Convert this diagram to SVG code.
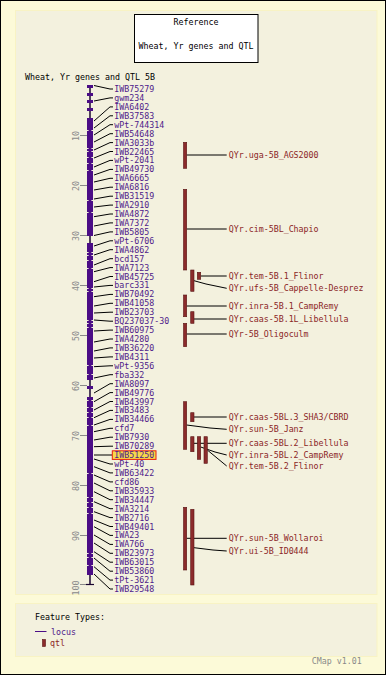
<svg xmlns="http://www.w3.org/2000/svg" width="386" height="675" viewBox="0 0 386 675">
<style>
text{font-family:"DejaVu Sans Mono","Liberation Mono",monospace;font-size:8.3px}
.lab{fill:#4f1a8a}
.qlab{fill:#8b2626}
.blk{fill:#000}
.ruler{fill:#8a8a8a}
.tick{stroke:#8a8a8a;stroke-width:1}
.con{fill:none;stroke:#000;stroke-width:1}
.loc{fill:#4b0d86}
.notch{fill:#f3f1de}
.qtl{fill:#8b2b2b;stroke:#5a1414;stroke-width:0.6}
</style>
<rect x="0.5" y="0.5" width="385" height="674" fill="#fcfad8" stroke="#000" stroke-width="1"/>
<rect x="15.5" y="10.5" width="361.5" height="584" fill="#f3f1de" stroke="#f8f3c4" stroke-width="1"/>
<rect x="15.5" y="603.5" width="361.5" height="53" fill="#f3f1de" stroke="#f8f3c4" stroke-width="1"/>
<g id="title">
<rect x="134.5" y="14.5" width="123.5" height="48" fill="#fff" stroke="#000" stroke-width="1"/>
<text class="blk" x="196" y="25.3" text-anchor="middle">Reference</text>
<text class="blk" x="196" y="49" text-anchor="middle">Wheat, Yr genes and QTL</text>
</g>
<text class="blk" x="25" y="80">Wheat, Yr genes and QTL 5B</text>
<g id="ruler">
<g class="tick">
<line x1="80" y1="135.5" x2="87" y2="135.5"/><line x1="80" y1="185.5" x2="87" y2="185.5"/><line x1="80" y1="235.5" x2="87" y2="235.5"/><line x1="80" y1="285.5" x2="87" y2="285.5"/><line x1="80" y1="335.5" x2="87" y2="335.5"/><line x1="80" y1="385.5" x2="87" y2="385.5"/><line x1="80" y1="435.5" x2="87" y2="435.5"/><line x1="80" y1="485.5" x2="87" y2="485.5"/><line x1="80" y1="535.5" x2="87" y2="535.5"/><line x1="80" y1="584.5" x2="87" y2="584.5"/>
</g>
<g class="ruler" text-anchor="middle">
<text transform="translate(78.5,136) rotate(-90)">10</text>
<text transform="translate(78.5,186) rotate(-90)">20</text>
<text transform="translate(78.5,236) rotate(-90)">30</text>
<text transform="translate(78.5,286) rotate(-90)">40</text>
<text transform="translate(78.5,336) rotate(-90)">50</text>
<text transform="translate(78.5,386) rotate(-90)">60</text>
<text transform="translate(78.5,436) rotate(-90)">70</text>
<text transform="translate(78.5,486) rotate(-90)">80</text>
<text transform="translate(78.5,536) rotate(-90)">90</text>
<text transform="translate(78.5,588) rotate(-90)">100</text>
</g>
</g>
<g id="chromosome">
<line x1="90" y1="85" x2="90" y2="585" stroke="#1a0530" stroke-width="1.5"/>
<line x1="86" y1="584.5" x2="94" y2="584.5" stroke="#1a0530" stroke-width="1.2"/>
<rect class="loc" x="87" y="85" width="6" height="3"/>
<rect class="loc" x="87" y="93" width="6" height="3"/>
<rect class="loc" x="87" y="100" width="6" height="3"/>
<rect class="loc" x="87" y="108" width="6" height="3"/>
<rect class="loc" x="87" y="118" width="6" height="118"/>
<rect class="loc" x="87" y="243" width="6" height="137"/>
<rect class="loc" x="87" y="386" width="6" height="3"/>
<rect class="loc" x="87" y="397" width="6" height="178"/>
<g class="notch">
<rect x="87" y="130" width="1.6" height="1"/><rect x="91.4" y="130" width="1.6" height="1"/>
<rect x="87" y="148" width="1.6" height="1"/><rect x="91.4" y="148" width="1.6" height="1"/>
<rect x="87" y="151" width="1.6" height="1"/><rect x="91.4" y="151" width="1.6" height="1"/>
<rect x="87" y="157" width="1.6" height="1"/><rect x="91.4" y="157" width="1.6" height="1"/>
<rect x="87" y="163" width="1.6" height="1"/><rect x="91.4" y="163" width="1.6" height="1"/>
<rect x="87" y="170" width="1.6" height="1"/><rect x="91.4" y="170" width="1.6" height="1"/>
<rect x="87" y="200" width="1.6" height="1"/><rect x="91.4" y="200" width="1.6" height="1"/>
<rect x="87" y="212" width="1.6" height="1"/><rect x="91.4" y="212" width="1.6" height="1"/>
<rect x="87" y="252" width="1.6" height="1"/><rect x="91.4" y="252" width="1.6" height="1"/>
<rect x="87" y="255" width="1.6" height="1"/><rect x="91.4" y="255" width="1.6" height="1"/>
<rect x="87" y="260" width="1.6" height="1"/><rect x="91.4" y="260" width="1.6" height="1"/>
<rect x="87" y="268" width="1.6" height="1"/><rect x="91.4" y="268" width="1.6" height="1"/>
<rect x="87" y="288" width="1.6" height="1"/><rect x="91.4" y="288" width="1.6" height="1"/>
<rect x="87" y="291" width="1.6" height="1"/><rect x="91.4" y="291" width="1.6" height="1"/>
<rect x="87" y="320" width="1.6" height="1"/><rect x="91.4" y="320" width="1.6" height="1"/>
<rect x="87" y="323" width="1.6" height="1"/><rect x="91.4" y="323" width="1.6" height="1"/>
<rect x="87" y="327" width="1.6" height="1"/><rect x="91.4" y="327" width="1.6" height="1"/>
<rect x="87" y="365" width="1.6" height="1"/><rect x="91.4" y="365" width="1.6" height="1"/>
<rect x="87" y="374" width="1.6" height="1"/><rect x="91.4" y="374" width="1.6" height="1"/>
<rect x="87" y="400" width="1.6" height="1"/><rect x="91.4" y="400" width="1.6" height="1"/>
<rect x="87" y="407" width="1.6" height="1"/><rect x="91.4" y="407" width="1.6" height="1"/>
<rect x="87" y="412" width="1.6" height="1"/><rect x="91.4" y="412" width="1.6" height="1"/>
<rect x="87" y="417" width="1.6" height="1"/><rect x="91.4" y="417" width="1.6" height="1"/>
<rect x="87" y="425" width="1.6" height="1"/><rect x="91.4" y="425" width="1.6" height="1"/>
<rect x="87" y="473" width="1.6" height="1"/><rect x="91.4" y="473" width="1.6" height="1"/>
<rect x="87" y="497" width="1.6" height="1"/><rect x="91.4" y="497" width="1.6" height="1"/>
<rect x="87" y="502" width="1.6" height="1"/><rect x="91.4" y="502" width="1.6" height="1"/>
<rect x="87" y="507" width="1.6" height="1"/><rect x="91.4" y="507" width="1.6" height="1"/>
<rect x="87" y="513" width="1.6" height="1"/><rect x="91.4" y="513" width="1.6" height="1"/>
<rect x="87" y="553" width="1.6" height="1"/><rect x="91.4" y="553" width="1.6" height="1"/>
<rect x="87" y="557" width="1.6" height="1"/><rect x="91.4" y="557" width="1.6" height="1"/>
<rect x="87" y="565" width="1.6" height="1"/><rect x="91.4" y="565" width="1.6" height="1"/>
</g>
</g>
<g id="connectors" class="con">
<polyline points="94,85.5 110,89 113,89"/>
<polyline points="94,101 110,97.9 113,97.9"/>
<polyline points="94,121 110,106.9 113,106.9"/>
<polyline points="94,128 110,115.8 113,115.8"/>
<polyline points="94,135 110,124.7 113,124.7"/>
<polyline points="94,142 110,133.7 113,133.7"/>
<polyline points="94,150 110,142.6 113,142.6"/>
<polyline points="94,158 110,151.5 113,151.5"/>
<polyline points="94,167 110,160.4 113,160.4"/>
<polyline points="94,175 110,169.4 113,169.4"/>
<polyline points="94,182 110,178.3 113,178.3"/>
<polyline points="94,190 110,187.2 113,187.2"/>
<polyline points="94,199 110,196.2 113,196.2"/>
<polyline points="94,207 110,205.1 113,205.1"/>
<polyline points="94,216.7 110,214 113,214"/>
<polyline points="94,226 110,222.9 113,222.9"/>
<polyline points="94,235.5 110,231.9 113,231.9"/>
<polyline points="94,246 110,240.8 113,240.8"/>
<polyline points="94,255 110,249.7 113,249.7"/>
<polyline points="94,265 110,258.7 113,258.7"/>
<polyline points="94,271.7 110,267.6 113,267.6"/>
<polyline points="94,281.7 110,276.5 113,276.5"/>
<polyline points="94,287 110,285.4 113,285.4"/>
<polyline points="94,296.7 110,294.4 113,294.4"/>
<polyline points="94,306 110,303.3 113,303.3"/>
<polyline points="94,313 110,312.2 113,312.2"/>
<polyline points="94,320 110,321.2 113,321.2"/>
<polyline points="94,331 110,330.1 113,330.1"/>
<polyline points="94,342 110,339 113,339"/>
<polyline points="94,351 110,347.9 113,347.9"/>
<polyline points="94,358 110,356.9 113,356.9"/>
<polyline points="94,366.7 110,365.8 113,365.8"/>
<polyline points="94,378 110,374.7 113,374.7"/>
<polyline points="94,393 110,383.7 113,383.7"/>
<polyline points="94,401.7 110,392.6 113,392.6"/>
<polyline points="94,410 110,401.5 113,401.5"/>
<polyline points="94,417.7 110,410.4 113,410.4"/>
<polyline points="94,425 110,419.4 113,419.4"/>
<polyline points="94,431.7 110,428.3 113,428.3"/>
<polyline points="94,440 110,437.2 113,437.2"/>
<polyline points="94,446.7 110,446.2 113,446.2"/>
<polyline points="94,455 112,455"/>
<polyline points="94,459 110,464 113,464"/>
<polyline points="94,466.7 110,472.9 113,472.9"/>
<polyline points="94,475 110,481.9 113,481.9"/>
<polyline points="94,483 110,490.8 113,490.8"/>
<polyline points="94,491.7 110,499.7 113,499.7"/>
<polyline points="94,501.7 110,508.7 113,508.7"/>
<polyline points="94,511.7 110,517.6 113,517.6"/>
<polyline points="94,520 110,526.5 113,526.5"/>
<polyline points="94,526.7 110,535.4 113,535.4"/>
<polyline points="94,535 110,544.4 113,544.4"/>
<polyline points="94,543 110,553.3 113,553.3"/>
<polyline points="94,551.7 110,562.2 113,562.2"/>
<polyline points="94,558 110,571.2 113,571.2"/>
<polyline points="94,566.7 110,580.1 113,580.1"/>
<polyline points="94,574 110,589 113,589"/>
<line x1="186.7" y1="155" x2="226.7" y2="155"/>
<line x1="186.7" y1="229" x2="226.7" y2="229"/>
<line x1="200.7" y1="276" x2="226.7" y2="276"/>
<polyline points="194,280.7 206,284 226.7,288.3"/>
<line x1="186.7" y1="306" x2="226.7" y2="306"/>
<line x1="194" y1="319" x2="226.7" y2="319"/>
<line x1="186.7" y1="334" x2="226.7" y2="334"/>
<polyline points="186.7,425 210,428 226.7,429.3"/>
<line x1="194" y1="417" x2="226.7" y2="417"/>
<line x1="194" y1="443.3" x2="226.7" y2="443.3"/>
<polyline points="200.7,447 215,452 226.7,455"/>
<polyline points="207.3,450 226.7,466"/>
<line x1="186.7" y1="538.3" x2="226.7" y2="538.3"/>
<polyline points="194,547.7 213,550 226.7,551"/>
</g>
<g id="loci" class="lab">
<g id="IWB75279"><text x="114.3" y="92">IWB75279</text></g>
<g id="gwm234"><text x="114.3" y="100.9">gwm234</text></g>
<g id="IWA6402"><text x="114.3" y="109.9">IWA6402</text></g>
<g id="IWB37583"><text x="114.3" y="118.8">IWB37583</text></g>
<g id="wPt-744314"><text x="114.3" y="127.7">wPt-744314</text></g>
<g id="IWB54648"><text x="114.3" y="136.7">IWB54648</text></g>
<g id="IWA3033b"><text x="114.3" y="145.6">IWA3033b</text></g>
<g id="IWB22465"><text x="114.3" y="154.5">IWB22465</text></g>
<g id="wPt-2041"><text x="114.3" y="163.4">wPt-2041</text></g>
<g id="IWB49730"><text x="114.3" y="172.4">IWB49730</text></g>
<g id="IWA6665"><text x="114.3" y="181.3">IWA6665</text></g>
<g id="IWA6816"><text x="114.3" y="190.2">IWA6816</text></g>
<g id="IWB31519"><text x="114.3" y="199.2">IWB31519</text></g>
<g id="IWA2910"><text x="114.3" y="208.1">IWA2910</text></g>
<g id="IWA4872"><text x="114.3" y="217">IWA4872</text></g>
<g id="IWA7372"><text x="114.3" y="225.9">IWA7372</text></g>
<g id="IWB5805"><text x="114.3" y="234.9">IWB5805</text></g>
<g id="wPt-6706"><text x="114.3" y="243.8">wPt-6706</text></g>
<g id="IWA4862"><text x="114.3" y="252.7">IWA4862</text></g>
<g id="bcd157"><text x="114.3" y="261.7">bcd157</text></g>
<g id="IWA7123"><text x="114.3" y="270.6">IWA7123</text></g>
<g id="IWB45725"><text x="114.3" y="279.5">IWB45725</text></g>
<g id="barc331"><text x="114.3" y="288.4">barc331</text></g>
<g id="IWB70492"><text x="114.3" y="297.4">IWB70492</text></g>
<g id="IWB41058"><text x="114.3" y="306.3">IWB41058</text></g>
<g id="IWB23703"><text x="114.3" y="315.2">IWB23703</text></g>
<g id="BQ237037-30"><text x="114.3" y="324.2">BQ237037-30</text></g>
<g id="IWB60975"><text x="114.3" y="333.1">IWB60975</text></g>
<g id="IWA4280"><text x="114.3" y="342">IWA4280</text></g>
<g id="IWB36220"><text x="114.3" y="350.9">IWB36220</text></g>
<g id="IWB4311"><text x="114.3" y="359.9">IWB4311</text></g>
<g id="wPt-9356"><text x="114.3" y="368.8">wPt-9356</text></g>
<g id="fba332"><text x="114.3" y="377.7">fba332</text></g>
<g id="IWA8097"><text x="114.3" y="386.7">IWA8097</text></g>
<g id="IWB49776"><text x="114.3" y="395.6">IWB49776</text></g>
<g id="IWB43997"><text x="114.3" y="404.5">IWB43997</text></g>
<g id="IWB3483"><text x="114.3" y="413.4">IWB3483</text></g>
<g id="IWB34466"><text x="114.3" y="422.4">IWB34466</text></g>
<g id="cfd7"><text x="114.3" y="431.3">cfd7</text></g>
<g id="IWB7930"><text x="114.3" y="440.2">IWB7930</text></g>
<g id="IWB70289"><text x="114.3" y="449.2">IWB70289</text></g>
<g id="IWB51250"><rect x="112.3" y="450.8" width="43.7" height="8.6" fill="#f7d84a" stroke="#e8200a" stroke-width="1"/><text x="114.3" y="458.1">IWB51250</text></g>
<g id="wPt-40"><text x="114.3" y="467">wPt-40</text></g>
<g id="IWB63422"><text x="114.3" y="475.9">IWB63422</text></g>
<g id="cfd86"><text x="114.3" y="484.9">cfd86</text></g>
<g id="IWB35933"><text x="114.3" y="493.8">IWB35933</text></g>
<g id="IWB34447"><text x="114.3" y="502.7">IWB34447</text></g>
<g id="IWA3214"><text x="114.3" y="511.7">IWA3214</text></g>
<g id="IWB2716"><text x="114.3" y="520.6">IWB2716</text></g>
<g id="IWB49401"><text x="114.3" y="529.5">IWB49401</text></g>
<g id="IWA23"><text x="114.3" y="538.4">IWA23</text></g>
<g id="IWA766"><text x="114.3" y="547.4">IWA766</text></g>
<g id="IWB23973"><text x="114.3" y="556.3">IWB23973</text></g>
<g id="IWB63015"><text x="114.3" y="565.2">IWB63015</text></g>
<g id="IWB53860"><text x="114.3" y="574.2">IWB53860</text></g>
<g id="tPt-3621"><text x="114.3" y="583.1">tPt-3621</text></g>
<g id="IWB29548"><text x="114.3" y="592">IWB29548</text></g>
</g>
<g id="qtls">
<g id="q-uga-AGS2000"><rect class="qtl" x="183.5" y="142.3" width="3.2" height="26"/><text class="qlab" x="228.7" y="158">QYr.uga-5B_AGS2000</text></g>
<g id="q-cim-Chapio"><rect class="qtl" x="183.5" y="189.3" width="3.2" height="80.7"/><text class="qlab" x="228.7" y="232">QYr.cim-5BL_Chapio</text></g>
<g id="q-tem-1-Flinor"><rect class="qtl" x="197.3" y="272.3" width="3.4" height="7"/><text class="qlab" x="228.7" y="279">QYr.tem-5B.1_Flinor</text></g>
<g id="q-ufs-Cappelle"><rect class="qtl" x="190.7" y="270" width="3.3" height="21.3"/><text class="qlab" x="228.7" y="291.3">QYr.ufs-5B_Cappelle-Desprez</text></g>
<g id="q-inra-1-CampRemy"><rect class="qtl" x="183.5" y="295" width="3.2" height="21.7"/><text class="qlab" x="228.7" y="309">QYr.inra-5B.1_CampRemy</text></g>
<g id="q-caas-1L-Libellula"><rect class="qtl" x="190.7" y="311.7" width="3.3" height="11.6"/><text class="qlab" x="228.7" y="322">QYr.caas-5B.1L_Libellula</text></g>
<g id="q-Oligoculm"><rect class="qtl" x="183.5" y="323.3" width="3.2" height="23.4"/><text class="qlab" x="228.7" y="337">QYr-5B_Oligoculm</text></g>
<g id="q-sun-Janz"><rect class="qtl" x="183.5" y="401.7" width="3.2" height="47.6"/><text class="qlab" x="228.7" y="432.3">QYr.sun-5B_Janz</text></g>
<g id="q-caas-3-SHA3"><rect class="qtl" x="190.7" y="412.7" width="3.3" height="9"/><text class="qlab" x="228.7" y="420">QYr.caas-5BL.3_SHA3/CBRD</text></g>
<g id="q-caas-2-Libellula"><rect class="qtl" x="190.7" y="436.7" width="3.3" height="15"/><text class="qlab" x="228.7" y="446.3">QYr.caas-5BL.2_Libellula</text></g>
<g id="q-inra-2-CampRemy"><rect class="qtl" x="197.3" y="436.7" width="3.4" height="22.6"/><text class="qlab" x="228.7" y="458">QYr.inra-5BL.2_CampRemy</text></g>
<g id="q-tem-2-Flinor"><rect class="qtl" x="204" y="436.7" width="3.3" height="26.6"/><text class="qlab" x="228.7" y="469">QYr.tem-5B.2_Flinor</text></g>
<g id="q-sun-Wollaroi"><rect class="qtl" x="183.5" y="507.3" width="3.2" height="62.7"/><text class="qlab" x="228.7" y="541.3">QYr.sun-5B_Wollaroi</text></g>
<g id="q-ui-ID0444"><rect class="qtl" x="190.7" y="509.3" width="3.3" height="75.7"/><text class="qlab" x="228.7" y="554">QYr.ui-5B_ID0444</text></g>
</g>
<g id="legend">
<text class="blk" x="35" y="620">Feature Types:</text>
<line x1="35" y1="631.5" x2="46.5" y2="631.5" stroke="#4b0d86" stroke-width="1"/>
<text class="lab" x="51" y="634.5">locus</text>
<rect class="qtl" x="42.5" y="639.5" width="3" height="7"/>
<text class="qlab" x="50" y="646">qtl</text>
</g>
<text class="ruler" x="311.7" y="664">CMap v1.01</text>
</svg>
